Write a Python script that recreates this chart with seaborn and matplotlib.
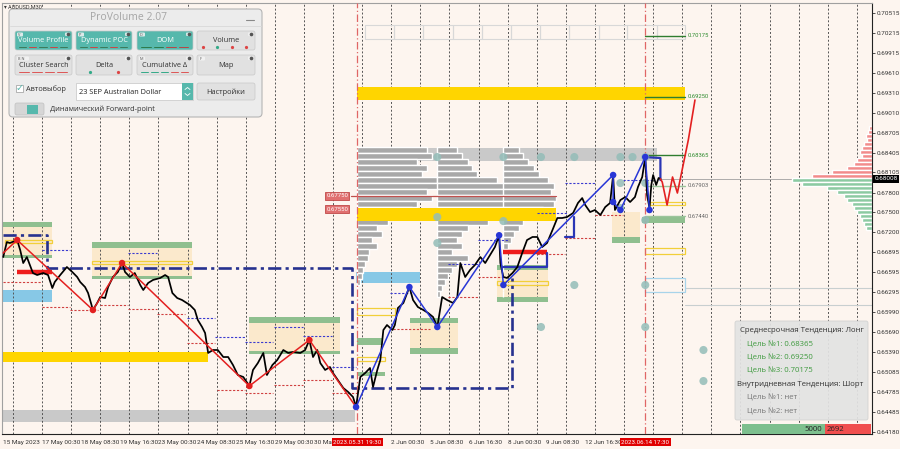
import numpy as np
import pandas as pd
import matplotlib
matplotlib.use("Agg")
import matplotlib.pyplot as plt
import seaborn as sns
from matplotlib.patches import Rectangle, FancyBboxPatch
import matplotlib.transforms as mtransforms

sns.set_style("white")
plt.rcParams['font.family'] = ['Open Sans', 'DejaVu Sans']

# ---------------- data ----------------
price_bars = [2,8,13,25,30,35,41,46,51,58,68,76,83,87,96,107,116,124,129,137,
              142,150,157,162,170,175,183,191,198,203,211,219,228,233,241,249,261,269,274,281,
              289,297,310,318,323,330,335,340,348,356,365,373,381,389,398,408,414,422,431,437,
              446,454,464,472,480,492,500,507,513,520,525,533,541,546,554,563,571,579,584,591,
              599,607,612,619,624,629,635,644,648,653,662,672,678,686,695,703,711,718,726,734,
              744,751,756,764,772,780,789,797,805,813,820,822,827,833,842,850,858,866,875,883,
              891,899,908,916,924,932,942,950,957,962,970,978,987,995,1003,1008,1011,1020,1028,1036,
              1044,1049,1056,1061,1064,1068,1071,1074,1079,1083,1086]
prices = [0.66826,0.67053,0.67038,0.67083,0.66932,0.66735,0.66826,0.66705,0.66584,0.66554,
          0.66584,0.66554,0.66357,0.66448,0.66554,0.66675,0.66599,0.66524,0.66448,0.66372,
          0.66282,0.66025,0.66131,0.66221,0.66206,0.66372,0.66524,0.66599,0.66735,0.66599,
          0.66524,0.66584,0.66403,0.66327,0.66433,0.66479,0.66509,0.66554,0.66524,0.66282,
          0.66206,0.66176,0.66100,0.66025,0.65874,0.65768,0.65677,0.65375,0.65420,0.65420,
          0.65314,0.65314,0.65193,0.65042,0.65012,0.64876,0.65118,0.65223,0.65375,0.65042,
          0.65193,0.65269,0.65420,0.65375,0.65390,0.65375,0.65420,0.65571,0.65314,0.65420,
          0.65223,0.65118,0.65163,0.65072,0.64966,0.64845,0.64785,0.64709,0.64558,0.65012,
          0.65072,0.65148,0.64861,0.65118,0.65269,0.65722,0.65798,0.65722,0.65798,0.66055,
          0.66131,0.66372,0.66176,0.66070,0.66025,0.65979,0.65919,0.65768,0.66221,0.66176,
          0.66131,0.66221,0.66735,0.66524,0.66630,0.66705,0.66826,0.66735,0.66856,0.66977,
          0.67155,0.66735,0.66524,0.66509,0.66584,0.66675,0.66887,0.67083,0.67129,0.67129,
          0.66977,0.67038,0.67235,0.67416,0.67416,0.67431,0.67492,0.67643,0.67718,0.67612,
          0.67506,0.67537,0.67461,0.67582,0.67643,0.68066,0.67537,0.67688,0.67733,0.67658,
          0.67733,0.67885,0.68036,0.68338,0.67764,0.67567,0.67915,0.68066,0.67915,0.68021,
          0.68008]

red_zz_bars = [2, 25, 150, 198, 408, 507, 584]
red_zz_prices = [0.66887, 0.67083, 0.66025, 0.66735, 0.64876, 0.65571, 0.64558]
blue_zz_bars = [584, 672, 718, 820, 827, 1008, 1008, 1020, 1061, 1068]
blue_zz_prices = [0.64558, 0.66372, 0.65768, 0.67155, 0.66403, 0.68066, 0.67658, 0.67537, 0.68338, 0.67537]
proj_bars = [1086, 1089, 1097, 1106, 1114, 1132, 1143]
proj_prices = [0.68008, 0.67960, 0.67612, 0.68036, 0.67794, 0.68595, 0.69200]

# zones: (bar_start, bar_end, price_low, price_high)
gold_zones = [(586, 1127, 0.69200, 0.69397), (2, 340, 0.65239, 0.65390)]
gold_profile_zone = (586, 913, 0.67370, 0.67567)
gray_zones = [(586, 1080, 0.68278, 0.68474), (2, 582, 0.64331, 0.64513)]
sky_zones = [(2, 83, 0.66146, 0.66327), (584, 690, 0.66433, 0.66599)]
green_zones = [(2, 83, 0.67280, 0.67355), (2, 83, 0.66811, 0.66856),
               (149, 314, 0.66962, 0.67053), (149, 314, 0.66494, 0.66539),
               (408, 558, 0.65828, 0.65919), (408, 558, 0.65360, 0.65405),
               (586, 627, 0.65496, 0.65602), (586, 632, 0.65027, 0.65087),
               (673, 752, 0.65828, 0.65904), (673, 752, 0.65360, 0.65450),
               (817, 901, 0.66630, 0.66705), (817, 901, 0.66146, 0.66221),
               (1006, 1053, 0.67038, 0.67129), (1056, 1127, 0.67340, 0.67431)]
beige_zones = [(2, 83, 0.66856, 0.67280), (149, 314, 0.66539, 0.66962),
               (408, 558, 0.65405, 0.65828), (673, 752, 0.65450, 0.65828),
               (817, 901, 0.66221, 0.66630), (1006, 1053, 0.67129, 0.67507)]
gold_outlines = [(5, 83, 0.67038, 0.67083), (149, 314, 0.66720, 0.66766),
                 (586, 648, 0.65949, 0.66055), (586, 632, 0.65254, 0.65314),
                 (817, 901, 0.66403, 0.66463), (1069, 1127, 0.67612, 0.67658),
                 (1061, 1127, 0.66872, 0.66962)]
sky_outlines = [(1061, 1127, 0.66297, 0.66509)]
red_levels = [(25, 83, 0.66599), (827, 899, 0.66902)]
poc_line = (575, 913, 0.67750)
box_starts = [599, 647, 695, 744, 792, 840, 888, 936, 984, 1031, 1081, 1127]
box_range = (0.70122, 0.70334)

blue_dotted = [(66, 112, 0.66932), (208, 256, 0.66887), (305, 351, 0.65904), (351, 401, 0.65617),
               (401, 447, 0.65541), (449, 497, 0.65768), (497, 545, 0.65632), (545, 584, 0.65163),
               (640, 673, 0.66282), (736, 785, 0.66720), (785, 835, 0.67083), (883, 932, 0.67491),
               (929, 978, 0.67945), (1025, 1074, 0.67990)]
red_dotted = [(2, 66, 0.66448), (66, 112, 0.66070), (112, 158, 0.66025), (162, 208, 0.66100),
              (208, 256, 0.66040), (256, 302, 0.65964), (305, 351, 0.65526), (355, 401, 0.64815),
              (401, 447, 0.64770), (449, 497, 0.64891), (497, 545, 0.64966), (545, 586, 0.64770),
              (645, 706, 0.65738), (736, 785, 0.66221), (785, 835, 0.66524), (883, 929, 0.66872),
              (929, 978, 0.67113), (978, 1025, 0.67461)]
navy_paths = [([2, 74, 74, 578, 578, 842, 842], [0.67159, 0.67159, 0.66660, 0.66660, 0.64845, 0.64845, 0.66509])]
blue_boxes = [([827, 899, 899], [0.66675, 0.66675, 0.66887]),
              ([929, 944, 944], [0.67129, 0.67129, 0.67431]),
              ([1061, 1086, 1086], [0.68338, 0.68323, 0.67990])]

teal_dot_bars = [718, 827, 889, 944, 1020, 1040, 1061, 827, 718, 718, 1020, 1061, 1020, 1061, 944, 1061, 889, 1061, 1157, 1157]
teal_dot_prices = [0.68338, 0.68338, 0.68338, 0.68338, 0.68338, 0.68338, 0.68338, 0.67370, 0.67431, 0.67038,
                   0.67945, 0.67945, 0.67567, 0.67385, 0.66403, 0.66403, 0.65768, 0.65768, 0.65420, 0.64951]

# volume profiles (gray histograms)
vp_levels = [0.68444, 0.68353, 0.68263, 0.68172, 0.68081, 0.67990, 0.67900, 0.67809, 0.67718, 0.67628,
             0.67537, 0.67446, 0.67355, 0.67265, 0.67174, 0.67083, 0.66993, 0.66902, 0.66812, 0.66720,
             0.66630, 0.66539, 0.66449, 0.66358, 0.66267]
vp_a_start, vp_b_start, vp_c_start = 586, 718, 827
vp_a = [115, 124, 99, 115, 107, 132, 140, 115, 124, 99, 91, 74, 50, 33, 41, 25, 33, 20, 17, 13, 10, 7, 5, 0, 0]
vp_b = [33, 41, 50, 58, 66, 99, 124, 149, 182, 190, 165, 132, 83, 50, 41, 33, 41, 25, 50, 33, 25, 17, 13, 8, 5]
vp_c = [25, 33, 41, 50, 58, 74, 83, 79, 86, 83, 66, 50, 33, 25, 17, 13, 8, 0, 0, 0, 0, 0, 0, 0, 0]

# right-hand market profile
rp_red_levels = [0.68777, 0.68716, 0.68656, 0.68595, 0.68535, 0.68474, 0.68414, 0.68353, 0.68293,
                 0.68232, 0.68172, 0.68111, 0.68051]
rp_red = [5, 7, 10, 8, 13, 17, 20, 17, 25, 30, 41, 66, 99]
rp_green_levels = [0.67990, 0.67930, 0.67869, 0.67809, 0.67748, 0.67688, 0.67628, 0.67567, 0.67507,
                   0.67446, 0.67386, 0.67325, 0.67265]
rp_green = [132, 116, 74, 58, 46, 41, 33, 30, 25, 20, 17, 13, 10]

target_levels = [0.70175, 0.69250, 0.68365, 0.67903, 0.67440]
target_labels = ['0.70175', '0.69250', '0.68365', '0.67903', '0.67440']
current_price = 0.68008
event_bars = [586, 1061]
event_labels = ['2023.05.31 19:30', '2023.06.14 17:30']
xtick_bars = [2, 66, 130, 194, 258, 322, 386, 450, 514, 642, 706, 770, 834, 898, 962]
xtick_labels = ['15 May 2023', '17 May 00:30', '18 May 08:30', '19 May 16:30', '23 May 00:30',
                '24 May 08:30', '25 May 16:30', '29 May 00:30', '30 May 08:30', '2 Jun 00:30',
                '5 Jun 08:30', '6 Jun 16:30', '8 Jun 00:30', '9 Jun 08:30', '12 Jun 16:30']
ytick_vals = [0.70515, 0.70215, 0.69915, 0.69610, 0.69310, 0.69010, 0.68705, 0.68405, 0.68105,
              0.67800, 0.67500, 0.67200, 0.66895, 0.66595, 0.66295, 0.65990, 0.65690, 0.65390,
              0.65085, 0.64785, 0.64485, 0.64180]

# ---------------- figure ----------------
BG = '#fdf5ef'
GOLD = '#ffd500'
GREEN = '#8fbf8f'
BEIGE = '#fbe9cc'
SKY = '#87c8e6'
GRAYZ = '#c9c9c9'
NARROW = ['Liberation Sans Narrow', 'Roboto', 'DejaVu Sans']

fig = plt.figure(figsize=(9, 4.49), dpi=100, facecolor=BG)
ax = fig.add_axes([2/900, 15/449, 870/900, 431/449])
ax.set_facecolor(BG)
ax.set_xlim(0, 1435)
ax.set_ylim(0.64150, 0.70667)

def rect(z, fc, ec='none', lw=0, zo=1, alpha=1.0):
    b0, b1, lo, hi = z
    ax.add_patch(Rectangle((b0, lo), b1 - b0, hi - lo, facecolor=fc, edgecolor=ec, lw=lw, zorder=zo, alpha=alpha))

for z in beige_zones:
    rect(z, BEIGE, zo=1)
for z in gray_zones:
    rect(z, GRAYZ, zo=1)
for z in sky_zones:
    rect(z, SKY, zo=1)
for z in gold_zones:
    rect(z, GOLD, zo=1.5)
for z in green_zones:
    rect(z, GREEN, zo=1.5)

# day separators
for b in np.arange(18, 1436, 48):
    ax.axvline(b, color='#555555', ls=(0, (2, 2)), lw=0.7, zorder=1.2)

# gray boxes row at top
for b0, b1 in zip(box_starts[:-1], box_starts[1:]):
    ax.add_patch(Rectangle((b0, box_range[0]), b1 - b0, box_range[1] - box_range[0],
                           facecolor='none', edgecolor='#d8d8d8', lw=0.8, zorder=1.3))

# volume profiles
vh = 0.00078
for start, widths in [(vp_a_start, vp_a), (vp_b_start, vp_b), (vp_c_start, vp_c)]:
    ax.barh(vp_levels, widths, left=start, height=vh, color='#a8a8a8', zorder=2)
rect(gold_profile_zone, GOLD, zo=2.1)

# right market profile
ax.barh(rp_red_levels, [-w for w in rp_red], left=1435, height=0.00055, color='#f28b8b', zorder=2)
ax.barh(rp_green_levels, [-w for w in rp_green], left=1435, height=0.00055, color='#8ccaa2', zorder=2)

for z in gold_outlines:
    rect(z, 'none', ec='#f2cf3a', lw=0.9, zo=2.2)
for z in sky_outlines:
    rect(z, 'none', ec='#a8d4ea', lw=0.9, zo=2.2)

# faint right-side lines
for p in [0.66358, 0.66100]:
    ax.plot([1127, 1435], [p, p], color='#c8cfd0', lw=0.8, zorder=1.4)
ax.plot([1086, 1435], [current_price, current_price], color='#a0a0a0', lw=0.6, zorder=1.4)

# dotted helper levels
for b0, b1, p in blue_dotted:
    ax.plot([b0, b1], [p, p], color='#3a3ad0', ls=(0, (2, 1.5)), lw=0.8, zorder=2.3)
for b0, b1, p in red_dotted:
    ax.plot([b0, b1], [p, p], color='#d04040', ls=(0, (2, 1.5)), lw=0.8, zorder=2.3)

# POC line + red thick levels
ax.plot([poc_line[0], poc_line[1]], [poc_line[2], poc_line[2]], color='#c0504d', lw=0.9, zorder=2.4)
for b0, b1, p in red_levels:
    ax.plot([b0, b1], [p, p], color='#ee1c1c', lw=3.2, zorder=2.5, solid_capstyle='butt')

# navy dash-dot structure
for xs, ys in navy_paths:
    ax.plot(xs, ys, color='#26318f', lw=1.9, ls=(0, (5, 1.6, 1.2, 1.6)), zorder=2.6)
for xs, ys in blue_boxes:
    ax.plot(xs, ys, color='#2a35b5', lw=1.6, zorder=2.6)

# event verticals
for b in event_bars:
    ax.axvline(b, color='#e06666', ls=(0, (6, 2, 1, 2)), lw=0.9, zorder=2.7)

# target lines and labels
for i, (p, lab) in enumerate(zip(target_levels, target_labels)):
    strong = i < 3
    ax.plot([1061, 1127], [p, p], color='#2f7d2f' if strong else '#9bc49b', lw=1.0, zorder=2.7)
    ax.text(1131, p, lab, fontsize=4.2, color='#2e8b2e' if strong else '#666666', va='center', ha='left',
            family=NARROW, zorder=5)

# teal dots
sns.scatterplot(x=teal_dot_bars, y=teal_dot_prices, ax=ax, s=34, color='#93bdb8', alpha=0.85,
                edgecolor='none', zorder=3, legend=False)

# price path
df = pd.DataFrame({'bar': price_bars, 'price': prices})
sns.lineplot(data=df, x='bar', y='price', ax=ax, color='black', lw=1.25, estimator=None, sort=False, zorder=4)

# zigzags
sns.lineplot(x=red_zz_bars, y=red_zz_prices, ax=ax, color='#e32020', lw=1.1, estimator=None, sort=False, zorder=4.5)
sns.scatterplot(x=red_zz_bars[1:6], y=red_zz_prices[1:6], ax=ax, s=22, color='#e32020', edgecolor='none', zorder=4.6, legend=False)
sns.lineplot(x=blue_zz_bars, y=blue_zz_prices, ax=ax, color='#2836d6', lw=1.1, estimator=None, sort=False, zorder=4.5)
sns.scatterplot(x=blue_zz_bars, y=blue_zz_prices, ax=ax, s=22, color='#2836d6', edgecolor='none', zorder=4.6, legend=False)
sns.lineplot(x=proj_bars, y=proj_prices, ax=ax, color='#e32020', lw=1.2, estimator=None, sort=False, zorder=4.5)

# price label boxes 0.67750 / 0.67550
for p in [0.67750, 0.67550]:
    ax.text(553, p, f'{p:.5f}', fontsize=4.3, color='white', ha='center', va='center', family=NARROW, zorder=6,
            bbox=dict(boxstyle='square,pad=0.2', fc='#e07070', ec='#c04848', lw=0.6))

# axes styling
ax.set_xlabel('')
ax.set_ylabel('')
ax.yaxis.tick_right()
ax.set_yticks(ytick_vals)
ax.set_yticklabels([f'{v:.5f}' for v in ytick_vals], family=NARROW)
ax.tick_params(axis='y', labelsize=4.6, length=2, width=0.6, pad=1.5, colors='#333333')
ax.set_xticks(xtick_bars)
ax.set_xticklabels(xtick_labels, family=NARROW)
ax.tick_params(axis='x', labelsize=4.6, length=2, width=0.6, pad=2, colors='#333333')
for lbl in ax.get_xticklabels():
    lbl.set_horizontalalignment('left')
for s in ['right', 'bottom']:
    ax.spines[s].set_color('#222222')
    ax.spines[s].set_linewidth(0.8)
for s in ['top', 'left']:
    ax.spines[s].set_color('#a0a0a0')
    ax.spines[s].set_linewidth(0.8)

trans_x = mtransforms.blended_transform_factory(ax.transData, ax.transAxes)
for b, lab in zip(event_bars, event_labels):
    ax.text(b, -0.013, lab, transform=trans_x, fontsize=4.4, color='white', ha='center', va='top',
            family=NARROW, zorder=10, clip_on=False,
            bbox=dict(boxstyle='square,pad=0.25', fc='#e00000', ec='none'))
trans_y = mtransforms.blended_transform_factory(ax.transAxes, ax.transData)
ax.text(1.003, current_price, f'{current_price:.5f}', transform=trans_y, fontsize=4.6, color='white',
        ha='left', va='center', family=NARROW, zorder=10, clip_on=False,
        bbox=dict(boxstyle='square,pad=0.2', fc='black', ec='none'))

# ---------------- UI overlays (pixel space) ----------------
ui = fig.add_axes([0, 0, 1, 1], zorder=10)
ui.set_xlim(0, 900)
ui.set_ylim(449, 0)
ui.axis('off')
ui.patch.set_alpha(0)

ui.text(4, 7, '▾ AUDUSD,M30', fontsize=4, color='#333333', va='center', family=NARROW)

TEAL = '#56b8ac'
ui.add_patch(FancyBboxPatch((9, 9), 253, 108, boxstyle='round,pad=0,rounding_size=4',
                            fc='#ececec', ec='#b5b5b5', lw=0.8))
ui.text(128, 17, 'ProVolume 2.07', fontsize=7.5, color='#a5a5a5', ha='center', va='center')
ui.plot([246, 254], [20, 20], color='#888888', lw=0.8)
ui.plot([10, 261], [26, 26], color='#d8d8d8', lw=0.6)

def button(x0, x1, y0, y1, text, fc, tc, tag=None, marks=None):
    ui.add_patch(FancyBboxPatch((x0, y0), x1 - x0, y1 - y0, boxstyle='round,pad=0,rounding_size=2',
                                fc=fc, ec='#c9c9c9', lw=0.5))
    ui.text((x0 + x1) / 2, (y0 + y1) / 2 + 0.5, text, fontsize=5.3, color=tc, ha='center', va='center')
    ui.add_patch(FancyBboxPatch((x1 - 7, y0 + 1.5), 5, 3.5, boxstyle='round,pad=0,rounding_size=1',
                                fc='#f4f4f4', ec='none', alpha=0.8))
    ui.plot([x1 - 4.5], [y0 + 3.2], marker='o', ms=1.6, color='#555555')
    if tag:
        ui.add_patch(FancyBboxPatch((x0 + 2, y0 + 1.5), 3 + 3 * len(tag), 4, boxstyle='round,pad=0,rounding_size=1',
                                    fc='#f4f4f4', ec='none', alpha=0.85))
        ui.text(x0 + 3, y0 + 3.6, tag, fontsize=2.8, color='#555555', va='center', ha='left')
    if marks:
        n = len(marks)
        w = (x1 - x0 - 6) / n
        for i, c in enumerate(marks):
            ui.plot([x0 + 3 + i * w + 1, x0 + 3 + (i + 1) * w - 2], [y1 - 3, y1 - 3], color=c, lw=0.7)

GRAYB = '#e1e1e1'
button(15, 72, 31, 50, 'Volume Profile', TEAL, 'white', 'V', ['#3d7a5a', '#c44', '#3d7a5a', '#c44', '#3d7a5a'])
button(76, 132, 31, 50, 'Dynamic POC', TEAL, 'white', 'P', ['#3d7a5a', '#c44', '#3d7a5a', '#c44', '#3d7a5a'])
button(137, 193, 31, 50, 'DOM', TEAL, 'white', 'D', ['#2d7a4a', '#2d7a4a', '#b44', '#b44'])
button(197, 255, 31, 50, 'Volume', GRAYB, '#333333', None, None)
for xx, c in zip([203, 217, 232, 246], ['#d44', '#3a8', '#d44', '#d44']):
    ui.plot([xx], [47], marker='o', ms=1.3, color=c)
button(15, 72, 55, 75, 'Cluster Search', GRAYB, '#333333', 'B N', ['#d55', '#d55', '#d55', '#d55'])
button(76, 132, 55, 75, 'Delta', GRAYB, '#333333', None, None)
ui.plot([90], [72], marker='o', ms=1.3, color='#3a8')
ui.plot([118], [72], marker='o', ms=1.3, color='#d44')
button(137, 193, 55, 75, 'Cumulative Δ', GRAYB, '#333333', 'M', ['#3a8', '#3a8', '#3a8', '#d55', '#d55'])
button(197, 255, 55, 75, 'Map', GRAYB, '#333333', 'F', None)

ui.add_patch(Rectangle((16, 85), 7, 7, fc='white', ec='#9a9a9a', lw=0.5))
ui.text(19.5, 87.5, '✓', fontsize=7, color=TEAL, ha='center', va='center', family=['DejaVu Sans'])
ui.text(26, 89, 'Автовыбор', fontsize=5.3, color='#333333', va='center', ha='left')
ui.add_patch(Rectangle((76, 83), 117, 17, fc='white', ec='#c5c5c5', lw=0.5))
ui.add_patch(Rectangle((182, 83), 11, 17, fc=TEAL, ec='none'))
ui.plot([185, 187.5, 190], [89.5, 87.5, 89.5], color='white', lw=0.6)
ui.plot([185, 187.5, 190], [93.5, 95.5, 93.5], color='white', lw=0.6)
ui.text(79, 92, '23 SEP Australian Dollar', fontsize=5.3, color='#222222', va='center', ha='left')
ui.add_patch(FancyBboxPatch((197, 83), 58, 17, boxstyle='round,pad=0,rounding_size=2', fc=GRAYB, ec='#c9c9c9', lw=0.5))
ui.text(226, 92, 'Настройки', fontsize=5.3, color='#333333', ha='center', va='center')
ui.add_patch(FancyBboxPatch((15, 103), 29, 12, boxstyle='round,pad=0,rounding_size=2', fc='#d6d6d6', ec='#c0c0c0', lw=0.5))
ui.add_patch(Rectangle((27, 104.5), 11, 9, fc=TEAL, ec='none'))
ui.text(50, 109.5, 'Динамический Forward-point', fontsize=5.3, color='#333333', va='center', ha='left')

# info panel bottom-right
ui.add_patch(FancyBboxPatch((735, 321), 133, 99, boxstyle='round,pad=0,rounding_size=2',
                            fc='#e3e3e3', ec='#d0d0d0', lw=0.6, alpha=0.93))
info = [(740, 331, 'Среднесрочная Тенденция: Лонг', '#333333'),
        (747, 345, 'Цель №1: 0.68365', '#3f9a3f'),
        (747, 358, 'Цель №2: 0.69250', '#3f9a3f'),
        (747, 371, 'Цель №3: 0.70175', '#3f9a3f'),
        (737, 385, 'Внутридневная Тенденция: Шорт', '#333333'),
        (747, 398, 'Цель №1: нет', '#777777'),
        (747, 412, 'Цель №2: нет', '#777777')]
for x, y, t, c in info:
    ui.text(x, y, t, fontsize=5.6, color=c, va='center', ha='left')

ui.add_patch(Rectangle((742, 424), 83, 10, fc='#7dbf8e', ec='none'))
ui.add_patch(Rectangle((825, 424), 46, 10, fc='#f04e4e', ec='none'))
ui.text(822, 429.5, '5000', fontsize=5.6, color='#222222', ha='right', va='center')
ui.text(827, 429.5, '2692', fontsize=5.6, color='#222222', ha='left', va='center')

fig.savefig('out.png', dpi=100, facecolor=BG)
